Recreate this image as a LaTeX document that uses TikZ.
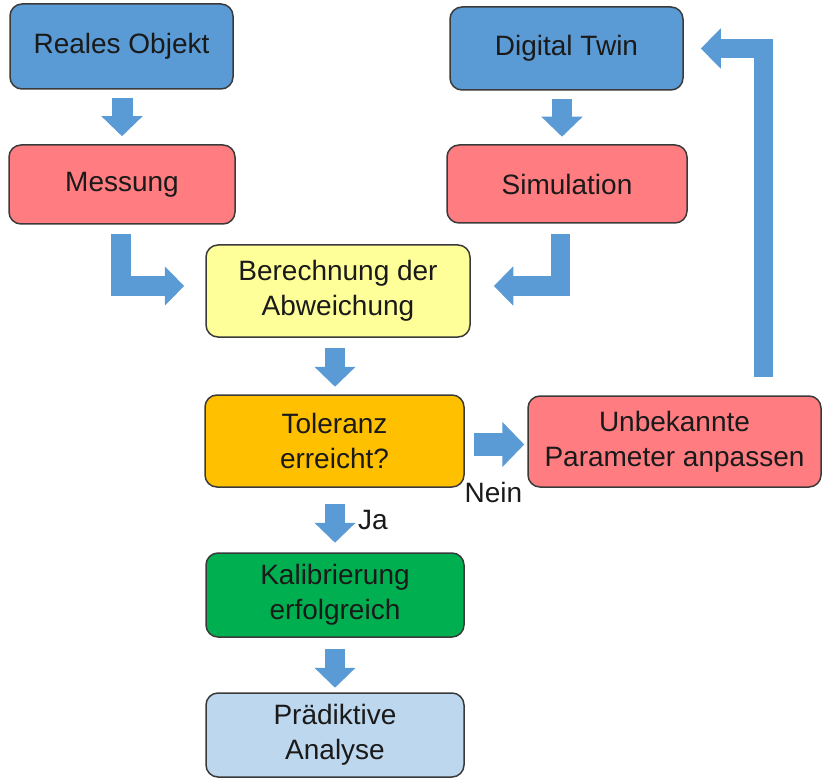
\documentclass[tikz,border=0pt]{standalone}
\usepackage{fontspec}
\setmainfont{Liberation Sans}
\usetikzlibrary{arrows.meta,calc}
\definecolor{cblue}{HTML}{5B9BD5}
\definecolor{cpink}{HTML}{FF7C80}
\definecolor{cyellow}{HTML}{FFFF99}
\definecolor{corange}{HTML}{FFC000}
\definecolor{cgreen}{HTML}{00B050}
\definecolor{clight}{HTML}{BDD7EE}
\definecolor{cborder}{HTML}{3A3A3A}
\definecolor{ctext}{HTML}{1A1A1A}
\tikzset{
  box/.style={draw=cborder, line width=1.5pt, rounded corners=12pt, align=center,
    inner sep=0pt, text=ctext, font=\fontsize{28}{35}\selectfont},
  barrow/.style={draw=cblue, line width=#1, line cap=butt, line join=miter},
  tipdown/.style={-{Triangle[length=20pt 0, width=40pt 0]}},
  tipbent/.style={-{Triangle[length=19.5pt 0, width=38pt 0]}},
  lbl/.style={text=ctext, font=\fontsize{28}{35}\selectfont, inner sep=0pt}
}
\begin{document}
\begin{tikzpicture}[x=1pt,y=-1pt]
\useasboundingbox (0,0) rectangle (823,781);
% boxes
\node[box, fill=cblue, minimum width=223pt, minimum height=85pt] (reales) at (121.5,46.5) {Reales Objekt};
\node[box, fill=cblue, minimum width=233pt, minimum height=83pt] (dt) at (566.5,48.5) {Digital Twin};
\node[box, fill=cpink, minimum width=226pt, minimum height=79pt] (mes) at (122,184.5) {Messung};
\node[box, fill=cpink, minimum width=240pt, minimum height=78pt] (sim) at (567,184) {Simulation};
\node[box, fill=cyellow, minimum width=264pt, minimum height=92pt] (ber) at (338,291) {Berechnung der\\Abweichung};
\node[box, fill=corange, minimum width=259pt, minimum height=92pt] (tol) at (334.5,441) {Toleranz\\erreicht?};
\node[box, fill=cpink, minimum width=293pt, minimum height=91pt] (unb) at (674.5,441.5) {Unbekannte\\Parameter anpassen};
\node[box, fill=cgreen, minimum width=258pt, minimum height=84pt] (kal) at (335,595) {Kalibrierung\\erfolgreich};
\node[box, fill=clight, minimum width=258pt, minimum height=84pt] (pra) at (335,735) {Prädiktive\\Analyse};
% straight arrows
\draw[barrow=21pt, tipdown] ($(reales.south)+(0.5,8)$) -- ($(mes.north)+(0,-8)$);
\draw[barrow=20pt, tipdown] ($(dt.south)+(-4.5,8)$) -- ++(0,38);
\draw[barrow=20pt, tipdown] ($(ber.south)+(-3,10)$) -- ++(0,39);
\draw[barrow=20pt, tipdown] ($(tol.south)+(0.5,16)$) -- ++(0,39);
\draw[barrow=20pt, tipdown] ($(kal.south)+(0,11)$) -- ++(0,39);
\draw[barrow=23pt, -{Triangle[length=22pt 0, width=44pt 0]}] ($(tol.east)+(9,3.5)$) -- ($(unb.west)+(-3,3)$);
% bent arrows
\draw[barrow=20pt, tipbent] ($(mes.south)+(-1,9)$) |- ($(ber.west)+(-21,-5)$);
\draw[barrow=19pt, tipbent] ($(sim.south)+(-7,10)$) |- ($(ber.east)+(23,-5)$);
\coordinate (fb) at (763,377);
\draw[barrow=19pt, -{Triangle[length=20pt 0, width=39pt 0]}] (fb) |- ($(dt.east)+(17,0)$);
% labels
\node[lbl, anchor=west] (ja) at (358,520) {Ja};
\node[lbl] (nein) at (493.5,492) {Nein};
\end{tikzpicture}
\end{document}
